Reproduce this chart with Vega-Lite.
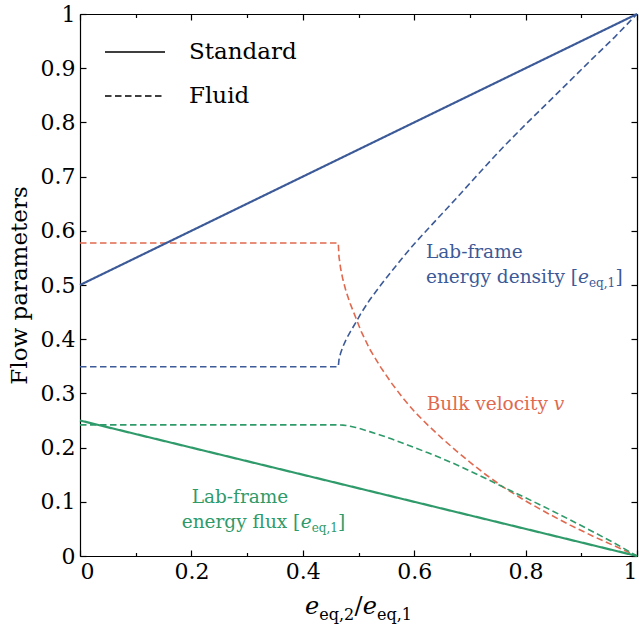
{
  "$schema": "https://vega.github.io/schema/vega-lite/v6.json",
  "width": 557,
  "height": 542,
  "autosize": {"type": "none"},
  "padding": {"left": 80, "top": 14, "right": 2, "bottom": 70},
  "background": "white",
  "config": {
    "view": {"stroke": null},
    "font": "DejaVu Serif",
    "axis": {
      "labelFont": "DejaVu Serif",
      "labelFontSize": 22,
      "labelColor": "black",
      "titleFont": "DejaVu Serif",
      "titleFontSize": 23,
      "titleFontWeight": "normal",
      "titleColor": "black",
      "tickColor": "black",
      "domainColor": "black",
      "domainWidth": 1.2,
      "tickWidth": 1.2,
      "grid": false
    },
    "legend": {"labelFont": "DejaVu Serif"},
    "text": {"font": "DejaVu Serif"}
  },
  "datasets": {
    "lines": [
      {"x": 0, "y": 0.5, "q": "density", "m": "Standard"},
      {"x": 1, "y": 1, "q": "density", "m": "Standard"},
      {"x": 0, "y": 0.25, "q": "flux", "m": "Standard"},
      {"x": 1, "y": 0, "q": "flux", "m": "Standard"},

      {"x": 0, "y": 0.5774, "q": "velocity", "m": "Fluid"},
      {"x": 0.4637, "y": 0.5774, "q": "velocity", "m": "Fluid"},
      {"x": 0.465, "y": 0.552, "q": "velocity", "m": "Fluid"},
      {"x": 0.468, "y": 0.53, "q": "velocity", "m": "Fluid"},
      {"x": 0.472, "y": 0.51, "q": "velocity", "m": "Fluid"},
      {"x": 0.478, "y": 0.487, "q": "velocity", "m": "Fluid"},
      {"x": 0.485, "y": 0.466, "q": "velocity", "m": "Fluid"},
      {"x": 0.495, "y": 0.44, "q": "velocity", "m": "Fluid"},
      {"x": 0.505, "y": 0.414, "q": "velocity", "m": "Fluid"},
      {"x": 0.52, "y": 0.382, "q": "velocity", "m": "Fluid"},
      {"x": 0.54, "y": 0.348, "q": "velocity", "m": "Fluid"},
      {"x": 0.56, "y": 0.318, "q": "velocity", "m": "Fluid"},
      {"x": 0.58, "y": 0.291, "q": "velocity", "m": "Fluid"},
      {"x": 0.6, "y": 0.267, "q": "velocity", "m": "Fluid"},
      {"x": 0.625, "y": 0.241, "q": "velocity", "m": "Fluid"},
      {"x": 0.65, "y": 0.217, "q": "velocity", "m": "Fluid"},
      {"x": 0.675, "y": 0.1945, "q": "velocity", "m": "Fluid"},
      {"x": 0.7, "y": 0.173, "q": "velocity", "m": "Fluid"},
      {"x": 0.73, "y": 0.149, "q": "velocity", "m": "Fluid"},
      {"x": 0.76, "y": 0.127, "q": "velocity", "m": "Fluid"},
      {"x": 0.8, "y": 0.1015, "q": "velocity", "m": "Fluid"},
      {"x": 0.84, "y": 0.0785, "q": "velocity", "m": "Fluid"},
      {"x": 0.88, "y": 0.057, "q": "velocity", "m": "Fluid"},
      {"x": 0.92, "y": 0.037, "q": "velocity", "m": "Fluid"},
      {"x": 0.96, "y": 0.0185, "q": "velocity", "m": "Fluid"},
      {"x": 1, "y": 0, "q": "velocity", "m": "Fluid"},

      {"x": 0, "y": 0.3492, "q": "density", "m": "Fluid"},
      {"x": 0.4637, "y": 0.3492, "q": "density", "m": "Fluid"},
      {"x": 0.465, "y": 0.3625, "q": "density", "m": "Fluid"},
      {"x": 0.468, "y": 0.3747, "q": "density", "m": "Fluid"},
      {"x": 0.472, "y": 0.3863, "q": "density", "m": "Fluid"},
      {"x": 0.478, "y": 0.4, "q": "density", "m": "Fluid"},
      {"x": 0.485, "y": 0.4132, "q": "density", "m": "Fluid"},
      {"x": 0.495, "y": 0.4304, "q": "density", "m": "Fluid"},
      {"x": 0.505, "y": 0.4486, "q": "density", "m": "Fluid"},
      {"x": 0.52, "y": 0.4724, "q": "density", "m": "Fluid"},
      {"x": 0.54, "y": 0.4999, "q": "density", "m": "Fluid"},
      {"x": 0.56, "y": 0.526, "q": "density", "m": "Fluid"},
      {"x": 0.58, "y": 0.5516, "q": "density", "m": "Fluid"},
      {"x": 0.6, "y": 0.5757, "q": "density", "m": "Fluid"},
      {"x": 0.625, "y": 0.6038, "q": "density", "m": "Fluid"},
      {"x": 0.65, "y": 0.6315, "q": "density", "m": "Fluid"},
      {"x": 0.675, "y": 0.6592, "q": "density", "m": "Fluid"},
      {"x": 0.7, "y": 0.6876, "q": "density", "m": "Fluid"},
      {"x": 0.73, "y": 0.7215, "q": "density", "m": "Fluid"},
      {"x": 0.76, "y": 0.7547, "q": "density", "m": "Fluid"},
      {"x": 0.8, "y": 0.7963, "q": "density", "m": "Fluid"},
      {"x": 0.84, "y": 0.8365, "q": "density", "m": "Fluid"},
      {"x": 0.88, "y": 0.8771, "q": "density", "m": "Fluid"},
      {"x": 0.92, "y": 0.9177, "q": "density", "m": "Fluid"},
      {"x": 0.96, "y": 0.9574, "q": "density", "m": "Fluid"},
      {"x": 1, "y": 1, "q": "density", "m": "Fluid"},

      {"x": 0, "y": 0.2419, "q": "flux", "m": "Fluid"},
      {"x": 0.4637, "y": 0.2419, "q": "flux", "m": "Fluid"},
      {"x": 0.468, "y": 0.2418, "q": "flux", "m": "Fluid"},
      {"x": 0.472, "y": 0.2415, "q": "flux", "m": "Fluid"},
      {"x": 0.478, "y": 0.2407, "q": "flux", "m": "Fluid"},
      {"x": 0.485, "y": 0.2394, "q": "flux", "m": "Fluid"},
      {"x": 0.495, "y": 0.2372, "q": "flux", "m": "Fluid"},
      {"x": 0.505, "y": 0.2342, "q": "flux", "m": "Fluid"},
      {"x": 0.52, "y": 0.2295, "q": "flux", "m": "Fluid"},
      {"x": 0.54, "y": 0.2229, "q": "flux", "m": "Fluid"},
      {"x": 0.56, "y": 0.2158, "q": "flux", "m": "Fluid"},
      {"x": 0.58, "y": 0.2081, "q": "flux", "m": "Fluid"},
      {"x": 0.6, "y": 0.2002, "q": "flux", "m": "Fluid"},
      {"x": 0.625, "y": 0.1903, "q": "flux", "m": "Fluid"},
      {"x": 0.65, "y": 0.1799, "q": "flux", "m": "Fluid"},
      {"x": 0.675, "y": 0.1688, "q": "flux", "m": "Fluid"},
      {"x": 0.7, "y": 0.157, "q": "flux", "m": "Fluid"},
      {"x": 0.73, "y": 0.1423, "q": "flux", "m": "Fluid"},
      {"x": 0.76, "y": 0.1271, "q": "flux", "m": "Fluid"},
      {"x": 0.8, "y": 0.1074, "q": "flux", "m": "Fluid"},
      {"x": 0.84, "y": 0.0874, "q": "flux", "m": "Fluid"},
      {"x": 0.88, "y": 0.0666, "q": "flux", "m": "Fluid"},
      {"x": 0.92, "y": 0.0453, "q": "flux", "m": "Fluid"},
      {"x": 0.96, "y": 0.0236, "q": "flux", "m": "Fluid"},
      {"x": 1, "y": 0, "q": "flux", "m": "Fluid"}
    ],
    "ann": [
      {"tx": 0.6212, "ty": 0.5493, "t": "Lab-frame", "q": "density", "k": "main"},
      {"tx": 0.6212, "ty": 0.5032, "t": "energy density [", "q": "density", "k": "main"},
      {"tx": 0.8941, "ty": 0.5032, "t": "e", "q": "density", "k": "ital"},
      {"tx": 0.9138, "ty": 0.5032, "t": "eq,1", "q": "density", "k": "sub"},
      {"tx": 0.9614, "ty": 0.5032, "t": "]", "q": "density", "k": "main"},
      {"tx": 0.6225, "ty": 0.2691, "t": "Bulk velocity", "q": "velocity", "k": "main"},
      {"tx": 0.8505, "ty": 0.2691, "t": "v", "q": "velocity", "k": "ital"},
      {"tx": 0.2005, "ty": 0.0982, "t": "Lab-frame", "q": "flux", "k": "main"},
      {"tx": 0.1826, "ty": 0.0516, "t": "energy flux [", "q": "flux", "k": "main"},
      {"tx": 0.3962, "ty": 0.0516, "t": "e", "q": "flux", "k": "ital"},
      {"tx": 0.416, "ty": 0.0516, "t": "eq,1", "q": "flux", "k": "sub"},
      {"tx": 0.463, "ty": 0.0516, "t": "]", "q": "flux", "k": "main"}
    ],
    "xt": [
      {"tx": 0.4039, "ty": -0.1069, "t": "e", "k": "ital"},
      {"tx": 0.4295, "ty": -0.1069, "t": "eq,2", "k": "sub"},
      {"tx": 0.4928, "ty": -0.1069, "t": "/", "k": "main"},
      {"tx": 0.5075, "ty": -0.1069, "t": "e", "k": "ital"},
      {"tx": 0.5332, "ty": -0.1069, "t": "eq,1", "k": "sub"}
    ]
  },
  "resolve": {"axis": {"x": "independent", "y": "independent"}},
  "layer": [
    {
      "data": {"name": "lines"},
      "mark": {"type": "point", "opacity": 0},
      "encoding": {
        "x": {"field": "x", "type": "quantitative", "scale": {"domain": [0, 1], "nice": false, "zero": false},
              "axis": {"orient": "top", "values": [0, 0.2, 0.4, 0.6, 0.8, 1], "labels": false, "title": null, "tickSize": -6}},
        "y": {"field": "y", "type": "quantitative", "scale": {"domain": [0, 1], "nice": false, "zero": false},
              "axis": {"orient": "right", "values": [0, 0.1, 0.2, 0.3, 0.4, 0.5, 0.6, 0.7, 0.8, 0.9, 1], "labels": false, "title": null, "tickSize": -6}}
      }
    },
    {
      "data": {"name": "lines"},
      "mark": {"type": "point", "opacity": 0},
      "encoding": {
        "x": {"field": "x", "type": "quantitative", "scale": {"domain": [0, 1], "nice": false, "zero": false},
              "axis": {"orient": "bottom", "values": [0.1, 0.3, 0.5, 0.7, 0.9], "labels": false, "domain": false, "title": null, "tickSize": -3.5}},
        "y": {"field": "y", "type": "quantitative", "scale": {"domain": [0, 1], "nice": false, "zero": false}, "axis": null}
      }
    },
    {
      "data": {"name": "lines"},
      "mark": {"type": "point", "opacity": 0},
      "encoding": {
        "x": {"field": "x", "type": "quantitative", "scale": {"domain": [0, 1], "nice": false, "zero": false},
              "axis": {"orient": "top", "values": [0.1, 0.3, 0.5, 0.7, 0.9], "labels": false, "domain": false, "title": null, "tickSize": -3.5}},
        "y": {"field": "y", "type": "quantitative", "scale": {"domain": [0, 1], "nice": false, "zero": false}, "axis": null}
      }
    },
    {
      "data": {"name": "lines"},
      "transform": [{"filter": "datum.m === 'Fluid'"}],
      "mark": {"type": "line", "interpolate": "linear", "strokeWidth": 1.6},
      "encoding": {
        "x": {"field": "x", "type": "quantitative", "scale": {"domain": [0, 1], "nice": false, "zero": false}, "axis": null},
        "y": {"field": "y", "type": "quantitative", "scale": {"domain": [0, 1], "nice": false, "zero": false}, "axis": null},
        "color": {"field": "q", "type": "nominal",
                  "scale": {"domain": ["density", "velocity", "flux"], "range": ["#3c5a98", "#e0694f", "#2f9a6a"]},
                  "legend": null},
        "strokeDash": {"field": "m", "type": "nominal",
                       "scale": {"domain": ["Standard", "Fluid"], "range": [[1, 0], [6.5, 3.5]]},
                       "legend": {"title": null, "orient": "none", "legendX": 24, "legendY": 7,
                                  "symbolType": "stroke", "symbolSize": 3600, "symbolStrokeColor": "black",
                                  "symbolStrokeWidth": 1.6, "labelFontSize": 23, "labelFont": "DejaVu Serif",
                                  "labelColor": "black", "labelOffset": 23, "rowPadding": 1}}
      }
    },
    {
      "data": {"name": "lines"},
      "transform": [{"filter": "datum.m === 'Standard'"}],
      "mark": {"type": "line", "interpolate": "linear", "strokeWidth": 2.2},
      "encoding": {
        "x": {"field": "x", "type": "quantitative", "scale": {"domain": [0, 1], "nice": false, "zero": false},
              "axis": {"orient": "bottom", "values": [0, 0.2, 0.4, 0.6, 0.8, 1], "format": "~g", "title": null, "tickSize": -6, "labelPadding": 11}},
        "y": {"field": "y", "type": "quantitative", "scale": {"domain": [0, 1], "nice": false, "zero": false},
              "axis": {"orient": "left", "values": [0, 0.1, 0.2, 0.3, 0.4, 0.5, 0.6, 0.7, 0.8, 0.9, 1], "format": "~g", "title": "Flow parameters", "tickSize": -6, "labelPadding": 11, "titlePadding": 9}},
        "color": {"field": "q", "type": "nominal", "legend": null},
        "strokeDash": {"field": "m", "type": "nominal",
                       "legend": {"title": null, "orient": "none", "legendX": 24, "legendY": 7,
                                  "symbolType": "stroke", "symbolSize": 3600, "symbolStrokeColor": "black",
                                  "symbolStrokeWidth": 1.6, "labelFontSize": 23, "labelFont": "DejaVu Serif",
                                  "labelColor": "black", "labelOffset": 23, "rowPadding": 1}}
      }
    },
    {
      "data": {"name": "ann"},
      "transform": [{"filter": "datum.k === 'main'"}],
      "mark": {"type": "text", "align": "left", "baseline": "alphabetic", "fontSize": 18.5, "font": "DejaVu Serif"},
      "encoding": {
        "x": {"field": "tx", "type": "quantitative", "scale": {"domain": [0, 1], "nice": false, "zero": false}, "axis": null},
        "y": {"field": "ty", "type": "quantitative", "scale": {"domain": [0, 1], "nice": false, "zero": false}, "axis": null},
        "text": {"field": "t"},
        "color": {"field": "q", "type": "nominal", "legend": null}
      }
    },
    {
      "data": {"name": "ann"},
      "transform": [{"filter": "datum.k === 'ital'"}],
      "mark": {"type": "text", "align": "left", "baseline": "alphabetic", "fontSize": 18.5, "fontStyle": "italic", "font": "DejaVu Serif"},
      "encoding": {
        "x": {"field": "tx", "type": "quantitative", "scale": {"domain": [0, 1], "nice": false, "zero": false}, "axis": null},
        "y": {"field": "ty", "type": "quantitative", "scale": {"domain": [0, 1], "nice": false, "zero": false}, "axis": null},
        "text": {"field": "t"},
        "color": {"field": "q", "type": "nominal", "legend": null}
      }
    },
    {
      "data": {"name": "ann"},
      "transform": [{"filter": "datum.k === 'sub'"}],
      "mark": {"type": "text", "align": "left", "baseline": "alphabetic", "fontSize": 12, "dy": 4, "font": "DejaVu Serif"},
      "encoding": {
        "x": {"field": "tx", "type": "quantitative", "scale": {"domain": [0, 1], "nice": false, "zero": false}, "axis": null},
        "y": {"field": "ty", "type": "quantitative", "scale": {"domain": [0, 1], "nice": false, "zero": false}, "axis": null},
        "text": {"field": "t"},
        "color": {"field": "q", "type": "nominal", "legend": null}
      }
    },
    {
      "data": {"name": "xt"},
      "transform": [{"filter": "datum.k === 'ital'"}],
      "mark": {"type": "text", "align": "left", "baseline": "alphabetic", "fontSize": 24, "fontStyle": "italic", "color": "black", "font": "DejaVu Serif"},
      "encoding": {
        "x": {"field": "tx", "type": "quantitative", "scale": {"domain": [0, 1], "nice": false, "zero": false}, "axis": null},
        "y": {"field": "ty", "type": "quantitative", "scale": {"domain": [0, 1], "nice": false, "zero": false}, "axis": null},
        "text": {"field": "t"}
      }
    },
    {
      "data": {"name": "xt"},
      "transform": [{"filter": "datum.k === 'sub'"}],
      "mark": {"type": "text", "align": "left", "baseline": "alphabetic", "fontSize": 16, "dy": 6, "color": "black", "font": "DejaVu Serif"},
      "encoding": {
        "x": {"field": "tx", "type": "quantitative", "scale": {"domain": [0, 1], "nice": false, "zero": false}, "axis": null},
        "y": {"field": "ty", "type": "quantitative", "scale": {"domain": [0, 1], "nice": false, "zero": false}, "axis": null},
        "text": {"field": "t"}
      }
    },
    {
      "data": {"name": "xt"},
      "transform": [{"filter": "datum.k === 'main'"}],
      "mark": {"type": "text", "align": "left", "baseline": "alphabetic", "fontSize": 24, "color": "black", "font": "DejaVu Serif"},
      "encoding": {
        "x": {"field": "tx", "type": "quantitative", "scale": {"domain": [0, 1], "nice": false, "zero": false}, "axis": null},
        "y": {"field": "ty", "type": "quantitative", "scale": {"domain": [0, 1], "nice": false, "zero": false}, "axis": null},
        "text": {"field": "t"}
      }
    }
  ]
}
